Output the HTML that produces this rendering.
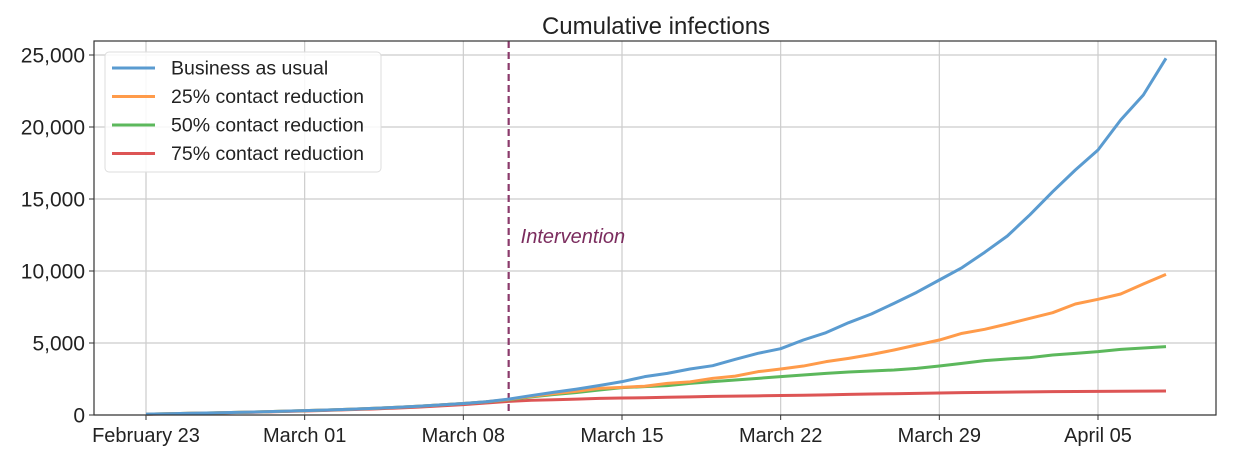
<!DOCTYPE html>
<html><head><meta charset="utf-8"><style>
body{margin:0;background:#fff;}
svg{display:block;font-family:"Liberation Sans",sans-serif;}
</style></head><body>
<svg id="chart" width="1236" height="464"></svg>
<script>
const days = Array.from({length:46},(_,i)=>i);
const blue = [60,90,120,150,180,220,260,300,350,400,460,530,610,700,800,920,1100,1350,1580,1800,2050,2315,2662,2893,3194,3425,3865,4282,4606,5208,5718,6412,7014,7754,8518,9375,10231,11296,12430,13912,15509,17014,18403,20486,22222,24768];
const orange = [60,90,120,150,180,220,260,300,350,400,460,530,610,700,800,920,1080,1300,1480,1650,1852,1921,2000,2199,2300,2546,2700,3009,3194,3400,3704,3935,4200,4514,4861,5208,5671,5949,6319,6713,7106,7708,8032,8403,9100,9768];
const green = [60,90,120,150,180,220,260,300,350,400,460,530,610,700,800,910,1060,1260,1420,1560,1736,1898,1968,2037,2199,2315,2430,2546,2662,2778,2894,2986,3055,3125,3240,3403,3588,3773,3889,3981,4167,4282,4398,4560,4650,4745];
const red = [55,80,110,140,170,200,240,280,320,370,420,480,550,630,720,830,950,1020,1060,1100,1157,1180,1200,1230,1260,1290,1310,1330,1350,1370,1400,1430,1460,1480,1500,1530,1550,1570,1590,1610,1620,1630,1640,1650,1660,1667];
const yTicks = [0,5000,10000,15000,20000,25000];
const xTickDays = [0,7,14,21,28,35,42];
const xTickLabels = ["February 23","March 01","March 08","March 15","March 22","March 29","April 05"];
const interventionDay = 16;
const seriesNames = ["Business as usual","25% contact reduction","50% contact reduction","75% contact reduction"];
const colors = ["#5a9bd0","#ff9b4a","#5cb85c","#dd5555"];

const L=94,R=1216,T=41,B=415;
const xs=d=>146+d*(1098-146)/42;
const ys=v=>415-v*(360/25000);
const NS="http://www.w3.org/2000/svg";
const svg=document.getElementById('chart');
function mk(tag,attrs,parent){const e=document.createElementNS(NS,tag);for(const k in attrs)e.setAttribute(k,attrs[k]);(parent||svg).appendChild(e);return e;}

let t=mk('text',{x:656,y:34,'text-anchor':'middle','font-size':24,fill:'#222'});
t.textContent='Cumulative infections';



yTicks.forEach(v=>{
  const g=mk('line',{x1:L,x2:R,y1:ys(v),y2:ys(v),stroke:'#ccc','stroke-width':1.2});
  
  
  mk('line',{x1:L-5,x2:L,y1:ys(v),y2:ys(v),stroke:'#333'});
  const l=mk('text',{x:L-9,y:ys(v)+7.5,'text-anchor':'end','font-size':21,fill:'#222'});
  l.textContent=v.toLocaleString('en-US');
  
  
});
xTickDays.forEach((d,i)=>{
  const g=mk('line',{x1:xs(d),x2:xs(d),y1:T,y2:B,stroke:'#ccc','stroke-width':1.2});
  
  
  mk('line',{x1:xs(d),x2:xs(d),y1:B,y2:B+5,stroke:'#333'});
  const l=mk('text',{x:xs(d),y:442,'text-anchor':'middle','font-size':20,fill:'#222'});
  l.textContent=xTickLabels[i];
  
  
});

const iv=mk('line',{x1:xs(interventionDay),x2:xs(interventionDay),y1:T,y2:B,stroke:'#8b3a6b','stroke-width':2.2,'stroke-dasharray':'7,4'});


const it=mk('text',{x:xs(interventionDay)+12,y:243,'font-size':20,'font-style':'italic',fill:'#7b2c5e'});
it.textContent='Intervention';



[red,green,orange,blue].forEach((arr,k)=>{
  const ci=3-k;
  const p=mk('polyline',{points:arr.map((v,i)=>xs(days[i])+','+ys(v)).join(' '),fill:'none',stroke:colors[ci],'stroke-width':3,'stroke-linejoin':'round'});
  
  
});

const frame=mk('rect',{x:L,y:T,width:R-L,height:B-T,fill:'none',stroke:'#333','stroke-width':1.2});



const lg=mk('g',{});


mk('rect',{x:105,y:52,width:276,height:120,rx:4,fill:'rgba(255,255,255,0.85)',stroke:'#ddd'},lg);
seriesNames.forEach((n,i)=>{
  const y=68+i*28.5;
  mk('line',{x1:112,x2:155,y1:y,y2:y,stroke:colors[i],'stroke-width':3},lg);
  const tx=mk('text',{x:171,y:y+6.5,'font-size':19.5,fill:'#222'},lg);
  tx.textContent=n;
  
  
});
</script>
</body></html>
